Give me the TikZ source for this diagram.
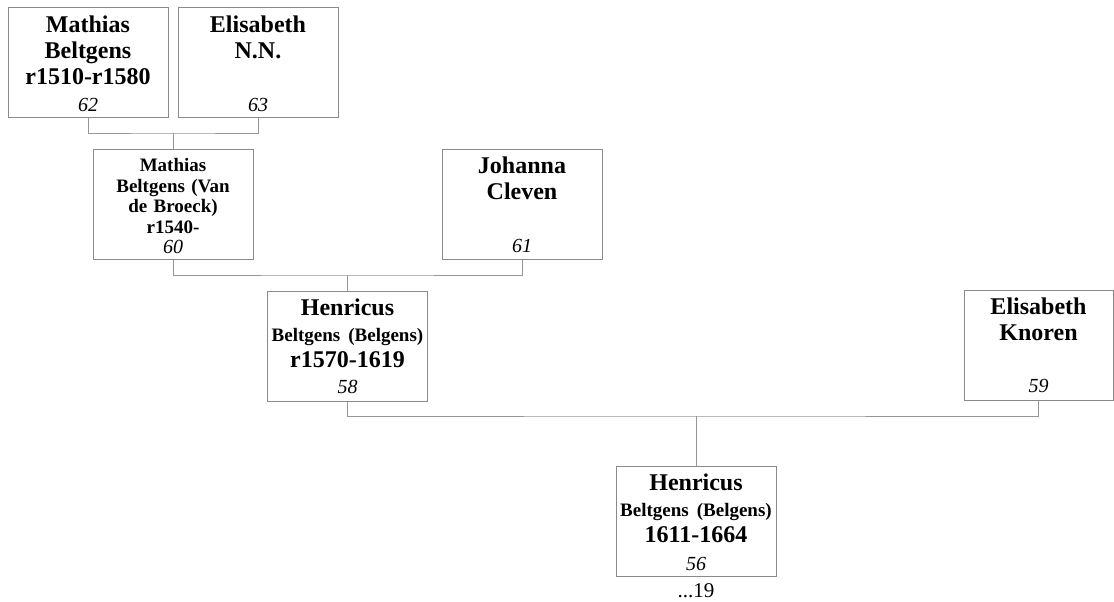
\documentclass[tikz,border=0pt]{standalone}
\usepackage{fontspec}
\setmainfont{Liberation Serif}
\usetikzlibrary{positioning}
\definecolor{boxgray}{RGB}{138,138,138}
\definecolor{linegray}{RGB}{150,150,150}

\tikzset{
  person/.style={draw=boxgray, line width=1pt, minimum width=160pt, minimum height=110pt, inner sep=0pt},
  big/.style={font=\bfseries\fontsize{24}{26}\selectfont, text width=160pt, align=center, inner sep=0pt},
  small/.style={font=\bfseries\fontsize{19}{20.5}\selectfont, text width=160pt, align=center, inner sep=0pt},
  num/.style={font=\itshape\fontsize{20}{22}\selectfont, inner sep=0pt, anchor=base},
  link/.style={draw=linegray, line width=1pt}
}
\newcommand{\midname}[1]{\mbox{\fontsize{19}{20}\selectfont #1}}

\begin{document}
\begin{tikzpicture}[x=1pt,y=1pt]
\useasboundingbox (0,0) rectangle (1114,-602);

  % boxes
  \node[person] (n62) at (88,-62.5) {};
  \node[person] (n63) at (258,-62.5) {};
  \node[person] (n60) at (173,-204) {};
  \node[person] (n61) at (522,-204) {};
  \node[person] (n58) at (347.5,-346) {};
  \node[person, minimum width=149pt] (n59) at (1038.5,-345) {};
  \node[person] (n56) at (696,-521.5) {};

  % names
  \node[big, below=9pt of n62.north] (t62) {Mathias\\Beltgens\\r1510-r1580};
  \node[big, below=9pt of n63.north] (t63) {Elisabeth\\N.N.};
  \node[small, below=10pt of n60.north] (t60) {Mathias\\Beltgens (Van\\de Broeck)\\r1540-};
  \node[big, below=8pt of n61.north] (t61) {Johanna\\Cleven};
  \node[big, below=8pt of n58.north] (t58) {Henricus\\\midname{Beltgens (Belgens)}\\r1570-1619};
  \node[big, below=8pt of n59.north] (t59) {Elisabeth\\Knoren};
  \node[big, below=8pt of n56.north] (t56) {Henricus\\\midname{Beltgens (Belgens)}\\1611-1664};

  % numbers
  \node[num] (k62) at ([yshift=7pt]n62.south) {62};
  \node[num] (k63) at ([yshift=7pt]n63.south) {63};
  \node[num] (k60) at ([yshift=6pt]n60.south) {60};
  \node[num] (k61) at ([yshift=7pt]n61.south) {61};
  \node[num] (k58) at ([yshift=8pt]n58.south) {58};
  \node[num] (k59) at ([yshift=8pt]n59.south) {59};
  \node[num] (k56) at ([yshift=7pt]n56.south) {56};
  \node[font=\fontsize{21}{22}\selectfont, inner sep=0pt, anchor=base] (more) at (696,-597) {...19};

  % family lines
  \coordinate (j1) at (173,-133);
  \coordinate (j2) at (347.5,-275);
  \coordinate (j3) at (696,-416);
  \draw[link] (n62.south) |- (j1) -| (n63.south);
  \draw[link] (j1) -- (n60.north);
  \draw[link] (n60.south) |- (j2) -| (n61.south);
  \draw[link] (j2) -- (n58.north);
  \draw[link] (n58.south) |- (j3) -| (n59.south);
  \draw[link] (j3) -- (n56.north);
\end{tikzpicture}
\end{document}
